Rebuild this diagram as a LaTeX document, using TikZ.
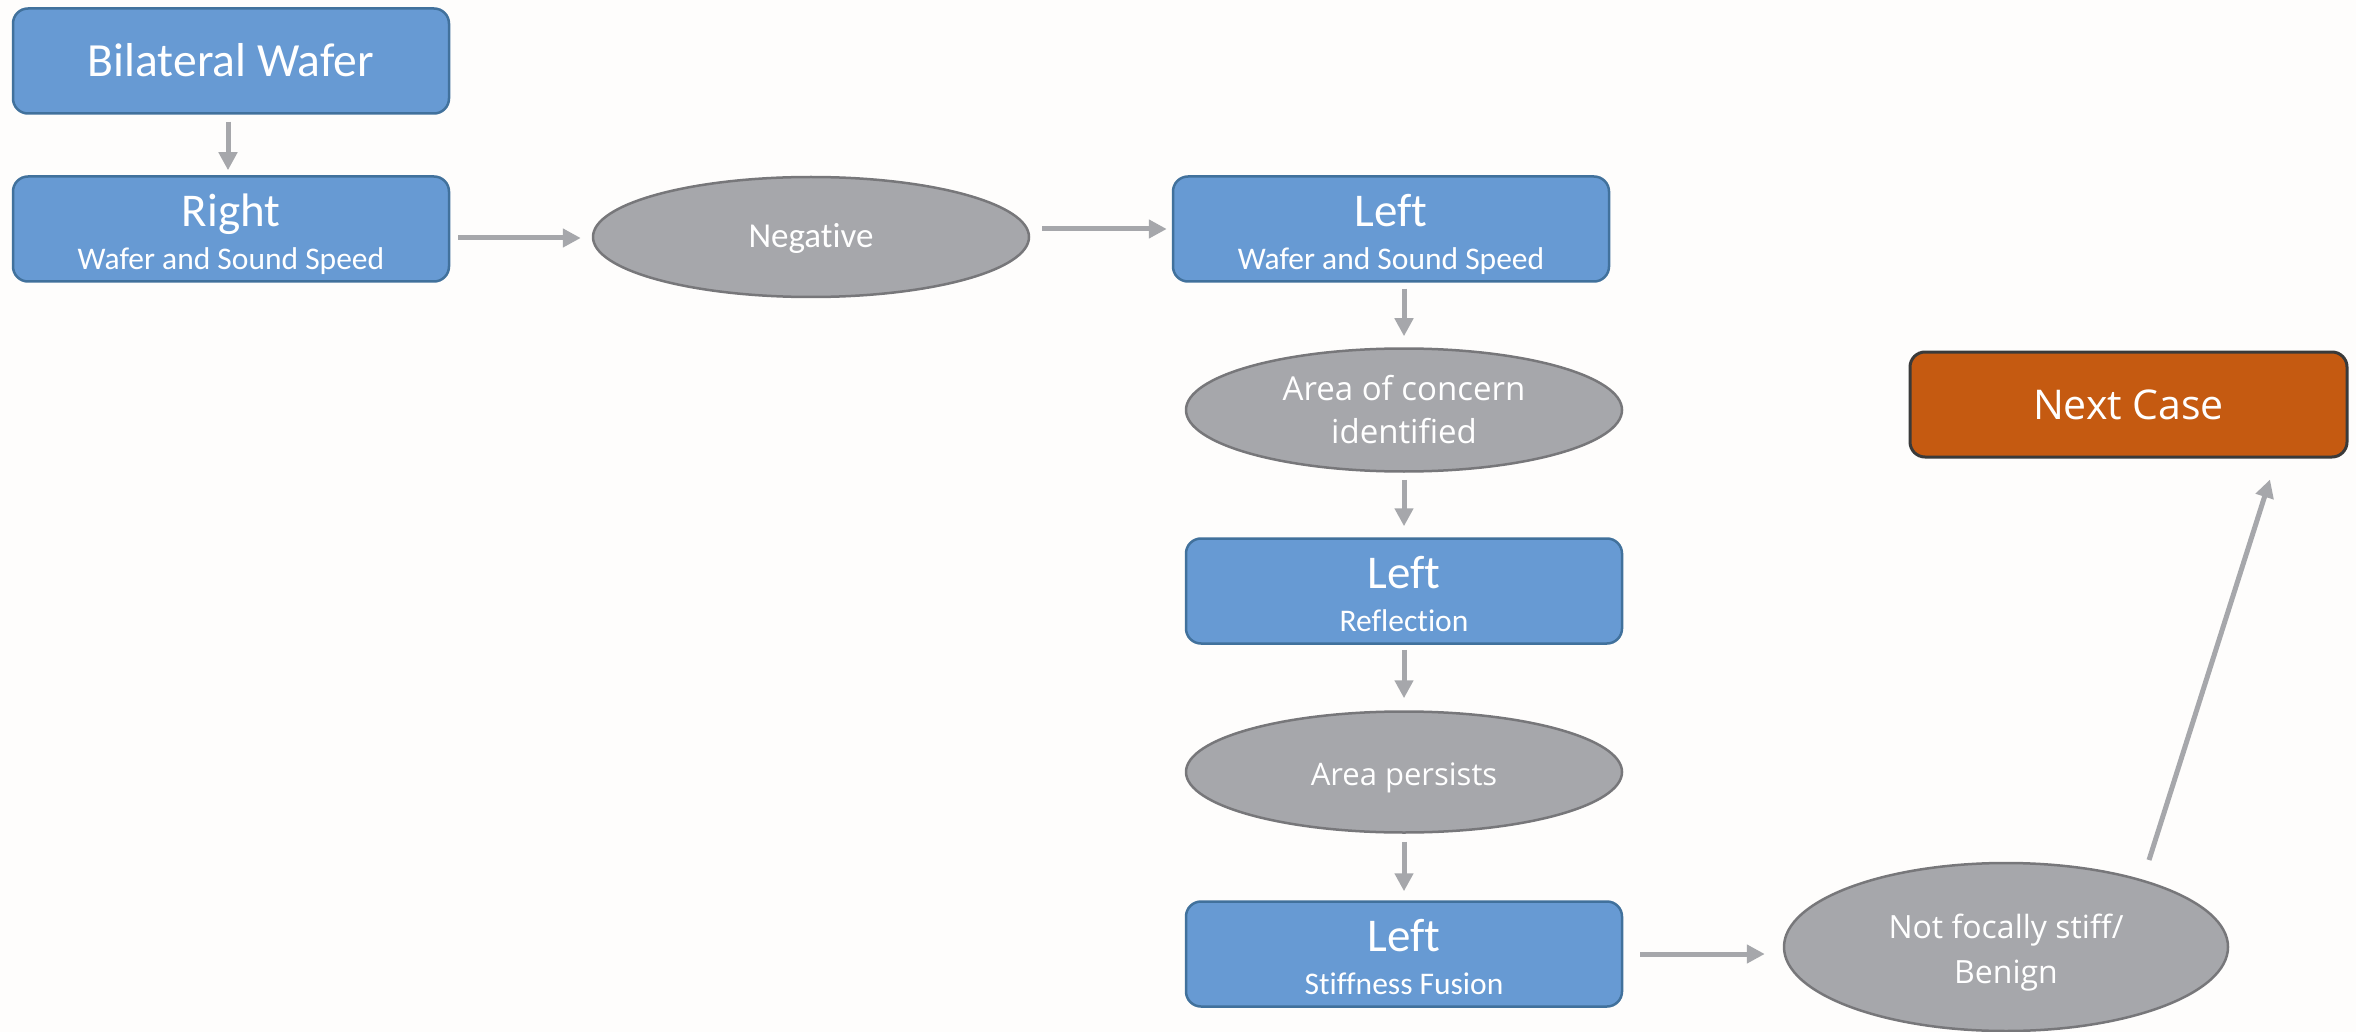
\documentclass[tikz,border=0pt]{standalone}
\usepackage{fontspec}
\setmainfont{Carlito}[Ligatures=NoCommon]
\newfontfamily\ovalfont{Open Sans}[Ligatures=NoCommon]
\usetikzlibrary{shapes.geometric,arrows.meta,calc}

\definecolor{pagebg}{HTML}{FEFDFC}
\definecolor{boxblue}{HTML}{679AD3}
\definecolor{boxblueline}{HTML}{41719C}
\definecolor{ovalgray}{HTML}{A6A7AB}
\definecolor{ovalline}{HTML}{77777A}
\definecolor{caseorange}{HTML}{C55A11}
\definecolor{caseline}{HTML}{3A3A3A}
\definecolor{arrowgray}{HTML}{A6A7AB}

\tikzset{
  stepbox/.style={rectangle, rounded corners=15pt, fill=boxblue, draw=boxblueline,
    line width=2.5pt, minimum width=436pt, minimum height=105pt, inner sep=0pt,
    text=white, font=\fontsize{31.5}{42.7}\selectfont},
  decision/.style={ellipse, fill=ovalgray, draw=ovalline, line width=2.5pt,
    minimum width=436pt, minimum height=121pt, inner sep=0pt, text=white},
  endbox/.style={rectangle, rounded corners=15pt, fill=caseorange, draw=caseline,
    line width=3pt, minimum width=437pt, minimum height=105pt, inner sep=0pt,
    text=white, font=\ovalfont\fontsize{41}{50}\selectfont},
  flow/.style={draw=arrowgray, line width=5pt,
    -{Triangle[length=18pt,width=18pt]}},
  % single line: baseline sits half the given length below the centre
  baselow/.style={text height=#1, text depth=0pt},
  % stacked lines: first baseline sits half the given length above the centre
  basehigh/.style={text height=0pt, text depth=#1},
}
% two stacked lines, first baseline as reference point
\newcommand{\stack}[2]{\smash{\begin{tabular}[t]{@{}c@{}}#1\\#2\end{tabular}}}
\newcommand{\boxtitle}[1]{\fontsize{47}{42.7}\selectfont #1}

\begin{document}
\begin{tikzpicture}[x=1pt,y=-1pt]
  % page
  \fill[pagebg] (0,0) rectangle (2356,1032);
  \useasboundingbox (0,0) rectangle (2356,1032);

  % left column
  \node[stepbox, baselow=32pt, font=\fontsize{47.6}{50}\selectfont]
    (bw) at (231,61) {Bilateral Wafer};
  \node[stepbox, basehigh=5pt] (rt) at (231,229)
    {\stack{\boxtitle{Right}}{Wafer and Sound Speed}};

  % first decision
  \node[decision, minimum height=120pt, baselow=21pt, font=\fontsize{35}{40}\selectfont]
    (neg) at (811,237) {Negative};

  % main column
  \node[stepbox, basehigh=5pt] (lw) at (1391,229)
    {\stack{\boxtitle{Left}}{Wafer and Sound Speed}};
  \node[decision, minimum height=123pt, basehigh=19pt,
        font=\ovalfont\fontsize{33}{43}\selectfont]
    (ac) at (1404,410) {\stack{Area of concern}{identified}};
  \node[stepbox, basehigh=5pt] (lr) at (1404,591)
    {\stack{\boxtitle{Left}}{Reflection}};
  \node[decision, baselow=26pt, font=\ovalfont\fontsize{31}{40}\selectfont]
    (ap) at (1404,772) {Area persists};
  \node[stepbox, basehigh=5pt] (ls) at (1404,954)
    {\stack{\boxtitle{Left}}{Stiffness Fusion}};

  % outcome
  \node[decision, minimum width=444pt, minimum height=168pt, basehigh=18pt,
        font=\ovalfont\fontsize{32}{45}\selectfont]
    (nf) at (2006,947) {\stack{Not focally stiff/}{Benign}};
  \node[endbox, baselow=29pt] (nc) at (2128.5,404.5) {Next Case};

  % connector ends of the diagonal arrow
  \coordinate (nfout) at ($(nf.center)+(143,-87)$);
  \coordinate (ncin)  at ($(nc.south)+(141.5,21)$);

  % connectors
  \draw[flow, shorten <=7pt, shorten >=5pt]
    ([xshift=-3pt]bw.south) -- ([xshift=-3pt]rt.north);
  \draw[flow, shorten <=8pt, shorten >=11pt]
    ($(rt.east |- neg.west)+(0,1)$) -- ($(neg.west)+(0,1)$);
  \draw[flow, shorten <=12pt, shorten >=5pt]
    (neg.east |- lw.west) -- (lw.west);
  \draw[flow, shorten <=6pt, shorten >=11pt]
    (lw.south -| ac.north) -- (ac.north);
  \draw[flow, shorten <=7pt, shorten >=11pt] (ac.south) -- (lr.north);
  \draw[flow, shorten <=5pt, shorten >=12pt] (lr.south) -- (ap.north);
  \draw[flow, shorten <=8pt, shorten >=9pt] (ap.south) -- (ls.north);
  \draw[flow, shorten <=17pt, shorten >=18pt] (ls.east) -- (ls.east -| nf.west);
  \draw[flow] (nfout) -- (ncin);
\end{tikzpicture}
\end{document}
